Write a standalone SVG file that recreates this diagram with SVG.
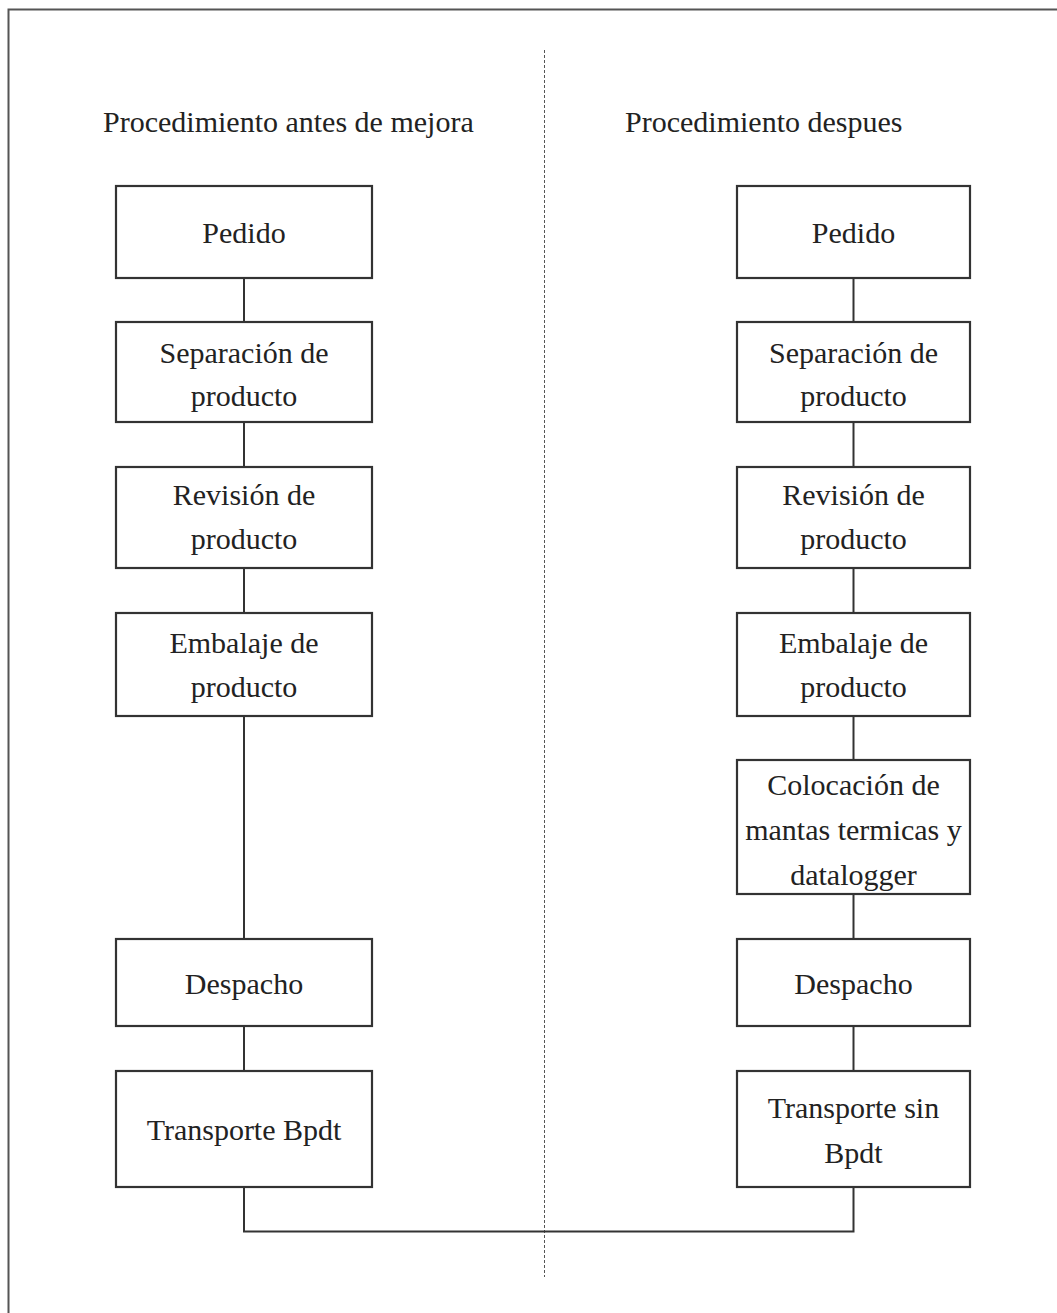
<svg xmlns="http://www.w3.org/2000/svg" width="1057" height="1313" viewBox="0 0 1057 1313">
<style>
  .box { fill: #ffffff; stroke: #333333; stroke-width: 2.2; }
  .conn { fill: none; stroke: #333333; stroke-width: 2; }
  .t { font-family: "Liberation Serif", "Times New Roman", serif; font-size: 30px; fill: #222222; text-anchor: middle; }
  .title { font-family: "Liberation Serif", "Times New Roman", serif; font-size: 30px; fill: #222222; }
</style>
<rect x="0" y="0" width="1057" height="1313" fill="#ffffff"/>
<rect id="frame" x="8.5" y="9.5" width="1100" height="1400" fill="none" stroke="#555555" stroke-width="2"/>
<line id="divider" x1="544.5" y1="50" x2="544.5" y2="1277" stroke="#555555" stroke-width="1" stroke-dasharray="3,2"/>
<text id="title-left" class="title" x="103" y="132">Procedimiento antes de mejora</text>
<text id="title-right" class="title" x="625" y="132">Procedimiento despues</text>

<g id="connectors">
  <line class="conn" x1="244" y1="278" x2="244" y2="322"/>
  <line class="conn" x1="244" y1="422" x2="244" y2="467"/>
  <line class="conn" x1="244" y1="568" x2="244" y2="613"/>
  <line class="conn" x1="244" y1="716" x2="244" y2="939"/>
  <line class="conn" x1="244" y1="1026" x2="244" y2="1071"/>
  <line class="conn" x1="853.5" y1="278" x2="853.5" y2="322"/>
  <line class="conn" x1="853.5" y1="422" x2="853.5" y2="467"/>
  <line class="conn" x1="853.5" y1="568" x2="853.5" y2="613"/>
  <line class="conn" x1="853.5" y1="716" x2="853.5" y2="760"/>
  <line class="conn" x1="853.5" y1="894" x2="853.5" y2="939"/>
  <line class="conn" x1="853.5" y1="1026" x2="853.5" y2="1071"/>
  <polyline class="conn" points="244,1187 244,1231.5 853.5,1231.5 853.5,1187"/>
</g>

<g id="l-pedido">
  <rect class="box" x="116" y="186" width="256" height="92"/>
  <text class="t" x="244" y="243">Pedido</text>
</g>
<g id="l-separacion">
  <rect class="box" x="116" y="322" width="256" height="100"/>
  <text class="t" x="244" y="363">Separación de</text>
  <text class="t" x="244" y="406">producto</text>
</g>
<g id="l-revision">
  <rect class="box" x="116" y="467" width="256" height="101"/>
  <text class="t" x="244" y="505">Revisión de</text>
  <text class="t" x="244" y="549">producto</text>
</g>
<g id="l-embalaje">
  <rect class="box" x="116" y="613" width="256" height="103"/>
  <text class="t" x="244" y="653">Embalaje de</text>
  <text class="t" x="244" y="697">producto</text>
</g>
<g id="l-despacho">
  <rect class="box" x="116" y="939" width="256" height="87"/>
  <text class="t" x="244" y="994">Despacho</text>
</g>
<g id="l-transporte">
  <rect class="box" x="116" y="1071" width="256" height="116"/>
  <text class="t" x="244" y="1140">Transporte Bpdt</text>
</g>

<g id="r-pedido">
  <rect class="box" x="737" y="186" width="233" height="92"/>
  <text class="t" x="853.5" y="243">Pedido</text>
</g>
<g id="r-separacion">
  <rect class="box" x="737" y="322" width="233" height="100"/>
  <text class="t" x="853.5" y="363">Separación de</text>
  <text class="t" x="853.5" y="406">producto</text>
</g>
<g id="r-revision">
  <rect class="box" x="737" y="467" width="233" height="101"/>
  <text class="t" x="853.5" y="505">Revisión de</text>
  <text class="t" x="853.5" y="549">producto</text>
</g>
<g id="r-embalaje">
  <rect class="box" x="737" y="613" width="233" height="103"/>
  <text class="t" x="853.5" y="653">Embalaje de</text>
  <text class="t" x="853.5" y="697">producto</text>
</g>
<g id="r-colocacion">
  <rect class="box" x="737" y="760" width="233" height="134"/>
  <text class="t" x="853.5" y="795">Colocación de</text>
  <text class="t" x="853.5" y="840">mantas termicas y</text>
  <text class="t" x="853.5" y="885">datalogger</text>
</g>
<g id="r-despacho">
  <rect class="box" x="737" y="939" width="233" height="87"/>
  <text class="t" x="853.5" y="994">Despacho</text>
</g>
<g id="r-transporte">
  <rect class="box" x="737" y="1071" width="233" height="116"/>
  <text class="t" x="853.5" y="1118">Transporte sin</text>
  <text class="t" x="853.5" y="1163">Bpdt</text>
</g>
</svg>
